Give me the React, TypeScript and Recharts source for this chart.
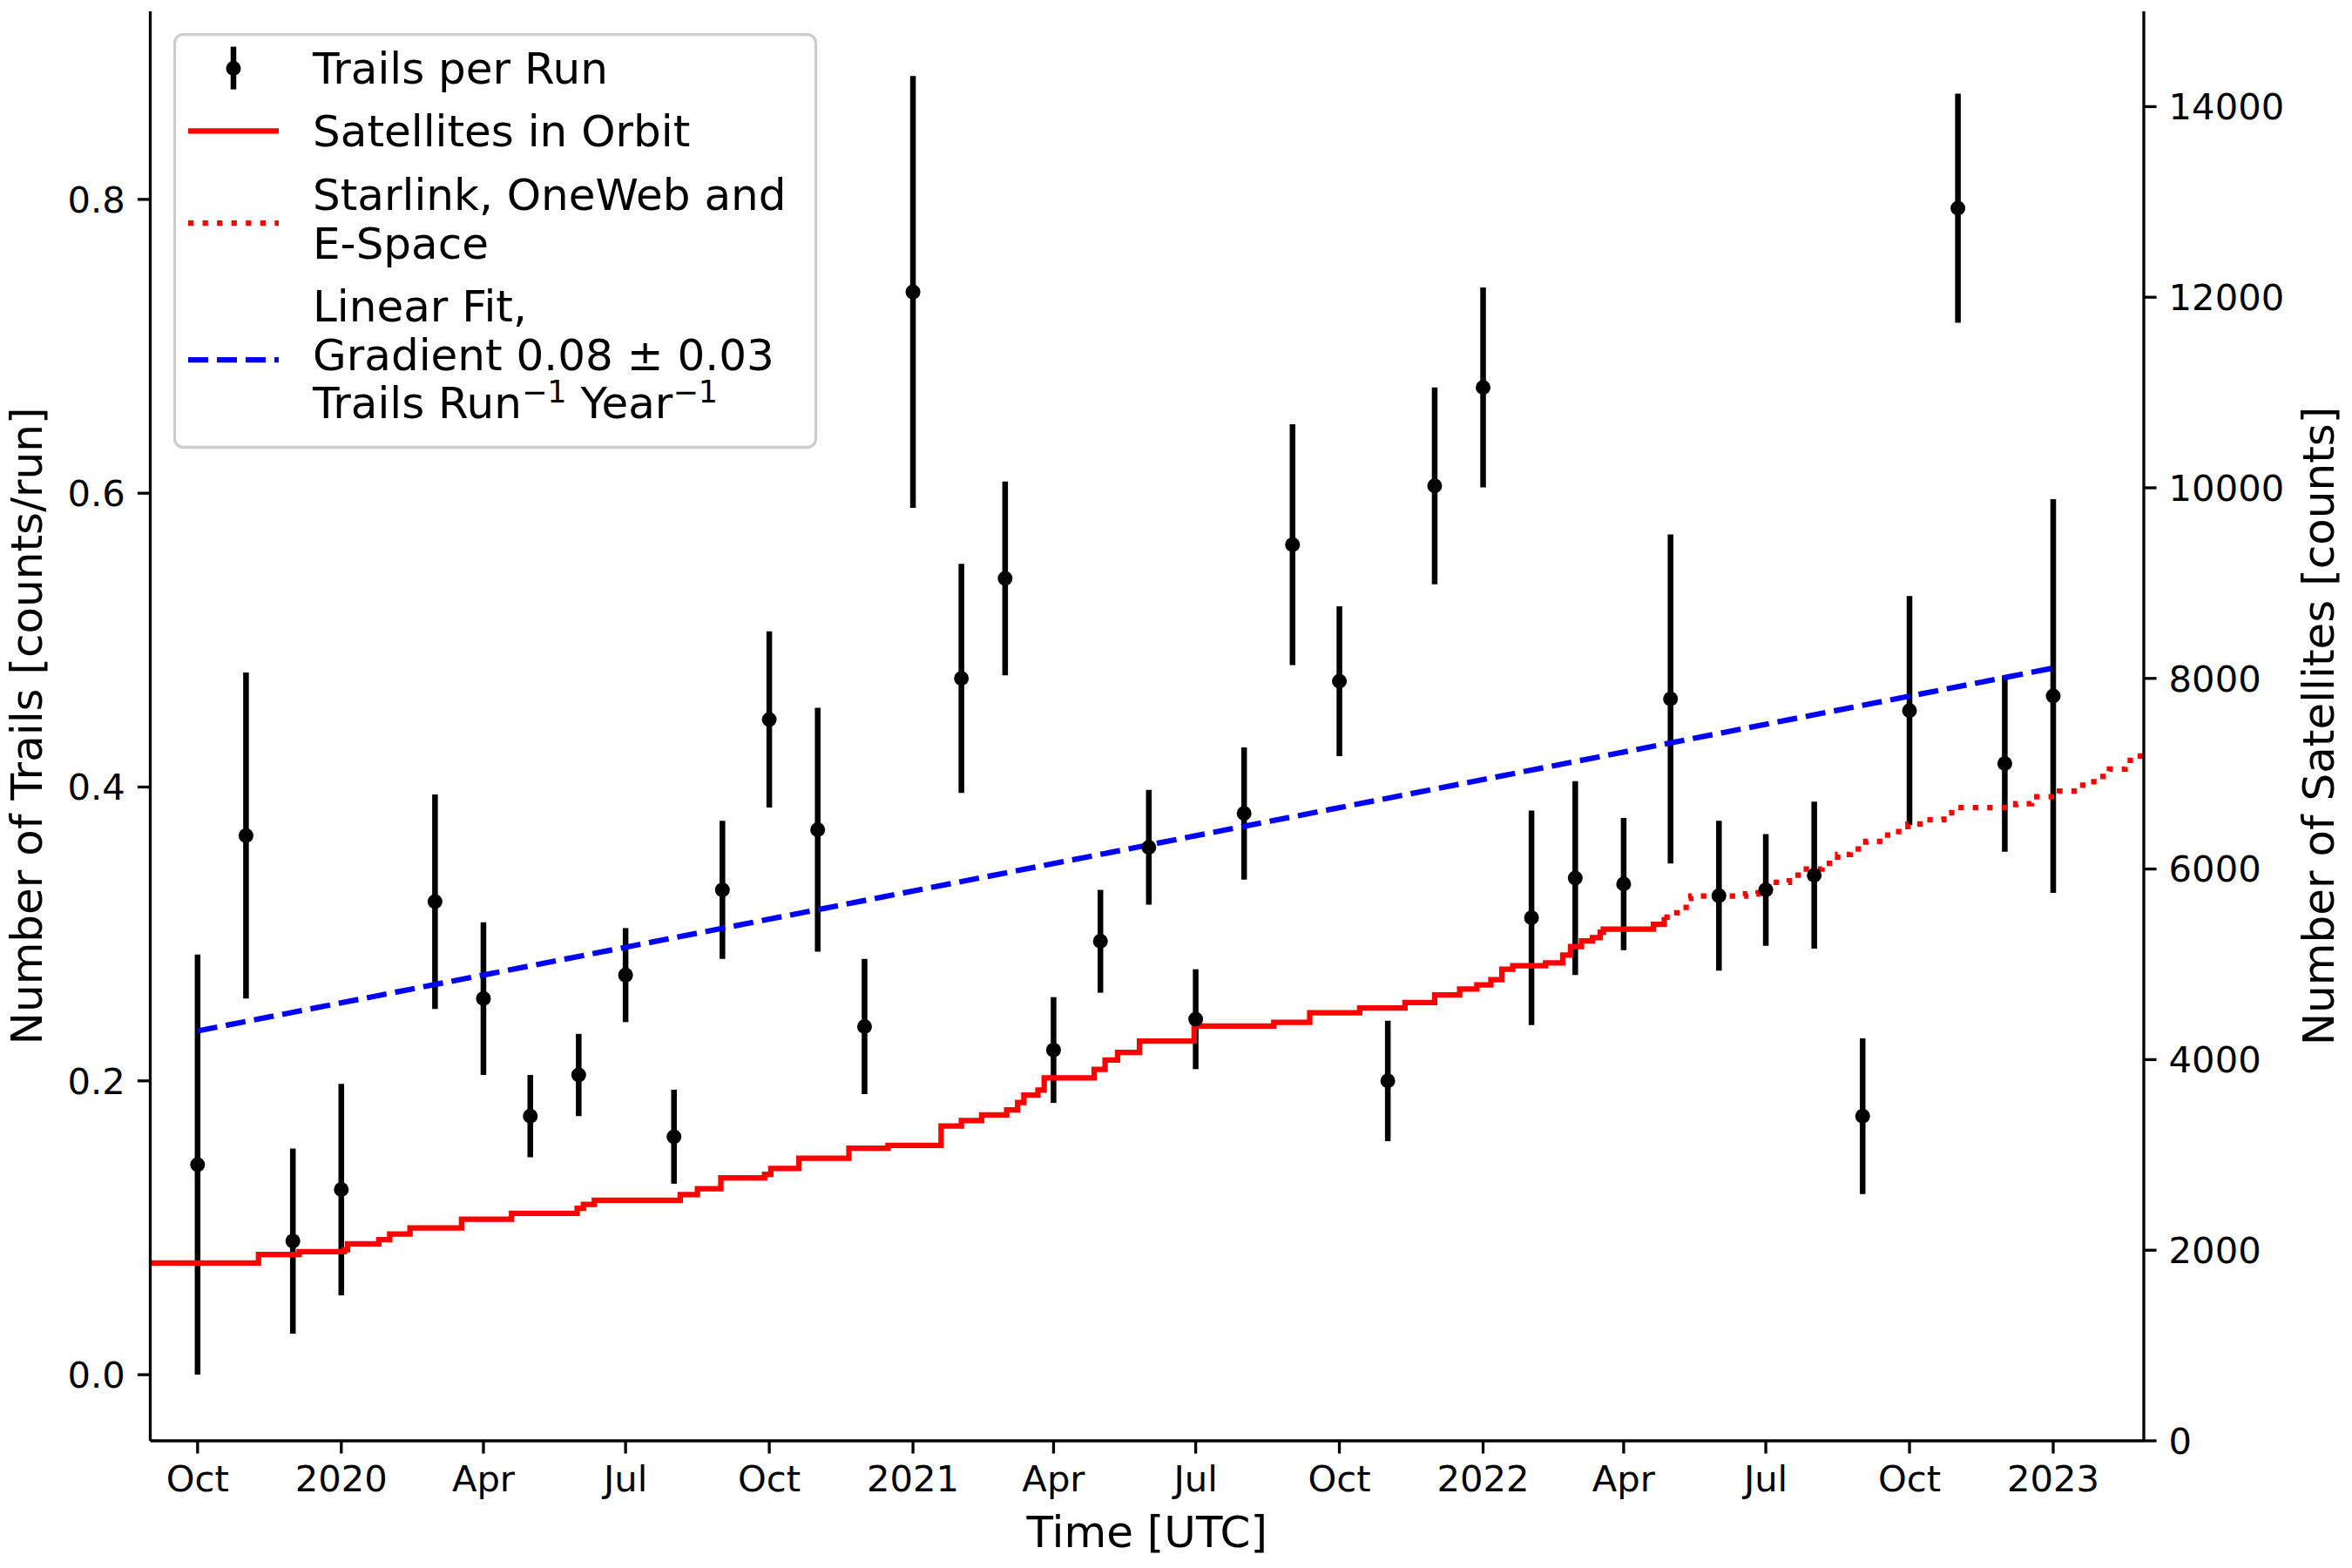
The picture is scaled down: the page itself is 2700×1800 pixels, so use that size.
import React from 'react';
import { ComposedChart, Scatter, Line, XAxis, YAxis, ErrorBar, Legend, Label } from 'recharts';

const FONT = '"DejaVu Sans", "Liberation Sans", sans-serif';

// monthly runs
const runMonths = [
  '2019-10-01', '2019-11-01', '2019-12-01', '2020-01-01', '2020-03-01', '2020-04-01',
  '2020-05-01', '2020-06-01', '2020-07-01', '2020-08-01', '2020-09-01', '2020-10-01',
  '2020-11-01', '2020-12-01', '2021-01-01', '2021-02-01', '2021-03-01', '2021-04-01',
  '2021-05-01', '2021-06-01', '2021-07-01', '2021-08-01', '2021-09-01', '2021-10-01',
  '2021-11-01', '2021-12-01', '2022-01-01', '2022-02-01', '2022-03-01', '2022-04-01',
  '2022-05-01', '2022-06-01', '2022-07-01', '2022-08-01', '2022-09-01', '2022-10-01',
  '2022-11-01', '2022-12-01', '2023-01-01',
];
const trailsPerRun = [
  0.143, 0.367, 0.091, 0.126, 0.322, 0.256,
  0.176, 0.204, 0.272, 0.162, 0.330, 0.446,
  0.371, 0.237, 0.737, 0.474, 0.542, 0.221,
  0.295, 0.359, 0.242, 0.382, 0.565, 0.472,
  0.200, 0.605, 0.672, 0.311, 0.338, 0.334,
  0.460, 0.326, 0.330, 0.340, 0.176, 0.452,
  0.794, 0.416, 0.462,
];
const trailsErr = [
  0.143, 0.111, 0.063, 0.072, 0.073, 0.052,
  0.028, 0.028, 0.032, 0.032, 0.047, 0.060,
  0.083, 0.046, 0.147, 0.078, 0.066, 0.036,
  0.035, 0.039, 0.034, 0.045, 0.082, 0.051,
  0.041, 0.067, 0.068, 0.073, 0.066, 0.045,
  0.112, 0.051, 0.038, 0.050, 0.053, 0.078,
  0.078, 0.060, 0.134,
];

// satellites in orbit (step series)
const satDates = [
  '2019-08-31', '2019-11-09', '2019-12-05', '2020-01-03', '2020-01-05', '2020-01-25',
  '2020-02-01', '2020-02-14', '2020-03-18', '2020-04-19', '2020-05-31', '2020-06-04',
  '2020-06-11', '2020-08-05', '2020-08-16', '2020-08-31', '2020-09-28', '2020-10-02',
  '2020-10-20', '2020-11-21', '2020-12-16', '2021-01-19', '2021-02-01', '2021-02-14',
  '2021-03-02', '2021-03-09', '2021-03-13', '2021-03-22', '2021-03-26', '2021-04-27',
  '2021-05-04', '2021-05-12', '2021-05-26', '2021-06-30', '2021-08-20', '2021-09-12',
  '2021-10-14', '2021-11-12', '2021-12-01', '2021-12-17', '2021-12-28', '2022-01-06',
  '2022-01-13', '2022-01-20', '2022-02-10', '2022-02-21', '2022-02-26', '2022-03-05',
  '2022-03-12', '2022-03-17', '2022-03-19', '2022-04-20', '2022-04-27',
];
const satCounts = [
  1865, 1955, 1985, 2005, 2066, 2110,
  2170, 2233, 2325, 2386, 2440, 2480,
  2523, 2584, 2645, 2760, 2797, 2858,
  2964, 3071, 3100, 3304, 3360, 3420,
  3472, 3549, 3628, 3680, 3808, 3897,
  3995, 4075, 4194, 4352, 4390, 4491,
  4541, 4600, 4680, 4740, 4785, 4838,
  4948, 4985, 5015, 5098, 5186, 5245,
  5280, 5336, 5370, 5420, 5495,
];

// Starlink, OneWeb and E-Space (dotted continuation)
const constDates = [
  '2022-04-27', '2022-05-05', '2022-05-11', '2022-05-14', '2022-06-18', '2022-06-26',
  '2022-07-06', '2022-07-16', '2022-07-25', '2022-08-06', '2022-08-16', '2022-08-24',
  '2022-09-03', '2022-09-17', '2022-09-30', '2022-10-10', '2022-10-23', '2022-10-28',
  '2022-12-08', '2022-12-18', '2023-01-05', '2023-01-17', '2023-01-27', '2023-02-06',
  '2023-02-16', '2023-02-24', '2023-02-28',
];
const constCounts = [
  5495, 5540, 5692, 5716, 5740, 5798,
  5860, 5935, 6000, 6060, 6152, 6210,
  6289, 6392, 6472, 6517, 6590, 6645,
  6685, 6758, 6819, 6880, 6972, 7048,
  7139, 7185, 7200,
];

// linear fit end points
const fitDates = ['2019-10-01', '2023-01-01'];
const fitValues = [0.234, 0.481];

const xTickDates = [
  '2019-10-01', '2020-01-01', '2020-04-01', '2020-07-01', '2020-10-01', '2021-01-01',
  '2021-04-01', '2021-07-01', '2021-10-01', '2022-01-01', '2022-04-01', '2022-07-01',
  '2022-10-01', '2023-01-01',
];
const xTickLabels = [
  'Oct', '2020', 'Apr', 'Jul', 'Oct', '2021', 'Apr', 'Jul', 'Oct', '2022', 'Apr', 'Jul', 'Oct', '2023',
];
const leftTicks = [0, 0.2, 0.4, 0.6, 0.8];
const rightTicks = [0, 2000, 4000, 6000, 8000, 10000, 12000, 14000];

const ORIGIN = Date.parse('2019-10-01');
const toDay = (s: string) => (Date.parse(s) - ORIGIN) / 86400000;

const runData = runMonths.map((d, i) => ({ x: toDay(d), y: trailsPerRun[i], err: trailsErr[i] }));
const satData = satDates.map((d, i) => ({ x: toDay(d), count: satCounts[i] }));
const constData = constDates.map((d, i) => ({ x: toDay(d), count: constCounts[i] }));
const fitData = fitDates.map((d, i) => ({ x: toDay(d), y: fitValues[i] }));
const xTicks = xTickDates.map(toDay);

const X_DOMAIN = [-30.3, 1246];

const tickStyle = { fill: '#000', fontSize: 41.7, fontFamily: FONT };
const lineStyle = { stroke: '#000', strokeWidth: 3.3 };

const Dot = (p: any) => <circle cx={p.cx} cy={p.cy} r={8.5} fill="#000" />;

const LeftTitle = (p: any) => {
  const vb = p.viewBox || { x: 0, y: 13, width: 172, height: 1641 };
  const cx = vb.x + 48;
  const cy = vb.y + vb.height / 2;
  return (
    <text x={cx} y={cy} transform={`rotate(-90 ${cx} ${cy})`} textAnchor="middle"
      fontSize={50} fontFamily={FONT} fill="#000">
      Number of Trails [counts/run]
    </text>
  );
};

const RightTitle = (p: any) => {
  const vb = p.viewBox || { x: 2461, y: 13, width: 239, height: 1641 };
  const cx = vb.x + 218;
  const cy = vb.y + vb.height / 2;
  return (
    <text x={cx} y={cy} transform={`rotate(-90 ${cx} ${cy})`} textAnchor="middle"
      fontSize={50} fontFamily={FONT} fill="#000">
      Number of Satellites [counts]
    </text>
  );
};

const BottomTitle = (p: any) => {
  const vb = p.viewBox || { x: 172.5, y: 1654, width: 2288.5, height: 146 };
  return (
    <text x={vb.x + vb.width / 2} y={vb.y + 122} textAnchor="middle"
      fontSize={50} fontFamily={FONT} fill="#000">
      Time [UTC]
    </text>
  );
};

const LegendBox = () => {
  const t = { fontSize: 50, fontFamily: FONT, fill: '#000' };
  const sup = { fontSize: 35 };
  return (
    <svg width={740} height={478} style={{ display: 'block' }}>
      <rect x={1.5} y={1.5} width={736} height={474} rx={10} ry={10}
        fill="#fff" fillOpacity={0.8} stroke="#cccccc" strokeWidth={3.3} />
      <line x1={69} x2={69} y1={15.6} y2={64.6} stroke="#000" strokeWidth={6.5} />
      <circle cx={69} cy={40.5} r={8.5} fill="#000" />
      <text x={160} y={57.7} {...t}>Trails per Run</text>

      <line x1={17} x2={121} y1={112.4} y2={112.4} stroke="#ff0000" strokeWidth={6.25} />
      <text x={160} y={130} {...t}>Satellites in Orbit</text>

      <line x1={17} x2={121} y1={218} y2={218} stroke="#ff0000" strokeWidth={6.25}
        strokeDasharray="6.25 10.3" />
      <text x={160} y={203} {...t}>Starlink, OneWeb and</text>
      <text x={160} y={258.6} {...t}>E-Space</text>

      <line x1={17} x2={121} y1={375} y2={375} stroke="#0000ff" strokeWidth={6.25}
        strokeDasharray="23 10" />
      <text x={160} y={331} {...t}>Linear Fit,</text>
      <text x={160} y={387} {...t}>Gradient 0.08 ± 0.03</text>
      <text x={160} y={442} {...t}>
        Trails Run<tspan dy={-18} {...sup}>−1</tspan>
        <tspan dy={18}> Year</tspan>
        <tspan dy={-18} {...sup}>−1</tspan>
      </text>
    </svg>
  );
};

export default function App() {
  return (
    <div style={{ position: 'absolute', left: 0, top: 0, width: 2700, height: 1800, background: '#fff' }}>
      <ComposedChart width={2700} height={1800} margin={{ top: 13, right: 0, bottom: 0, left: 0 }}>
        <XAxis
          xAxisId="bottom"
          dataKey="x"
          type="number"
          domain={X_DOMAIN}
          allowDataOverflow
          ticks={xTicks}
          interval={0}
          tickFormatter={(v: number) => xTickLabels[xTicks.indexOf(v)] ?? ''}
          height={146}
          tickSize={14.6}
          tickMargin={14}
          tick={tickStyle}
          axisLine={lineStyle}
          tickLine={lineStyle}
        >
          <Label content={BottomTitle} />
        </XAxis>
        <XAxis
          xAxisId="top"
          orientation="top"
          dataKey="x"
          type="number"
          domain={X_DOMAIN}
          allowDataOverflow
          height={0}
          tick={false}
          tickLine={false}
          axisLine={lineStyle}
        />
        <YAxis
          yAxisId="left"
          dataKey="y"
          type="number"
          domain={[-0.045, 0.928]}
          allowDataOverflow
          ticks={leftTicks}
          interval={0}
          tickFormatter={(v: number) => v.toFixed(1)}
          width={172.5}
          tickSize={14.6}
          tickMargin={14}
          tick={tickStyle}
          axisLine={lineStyle}
          tickLine={lineStyle}
        >
          <Label content={LeftTitle} />
        </YAxis>
        <YAxis
          yAxisId="right"
          orientation="right"
          dataKey="count"
          type="number"
          domain={[0, 15000]}
          allowDataOverflow
          ticks={rightTicks}
          interval={0}
          width={239}
          tickSize={14.6}
          tickMargin={14}
          tick={tickStyle}
          axisLine={lineStyle}
          tickLine={lineStyle}
        >
          <Label content={RightTitle} />
        </YAxis>

        <Scatter
          name="Trails per Run"
          data={runData}
          dataKey="y"
          xAxisId="bottom"
          yAxisId="left"
          shape={Dot}
          isAnimationActive={false}
        >
          <ErrorBar dataKey="err" direction="y" width={0} stroke="#000" strokeWidth={6.5} isAnimationActive={false} />
        </Scatter>
        <Line
          name="Linear Fit"
          data={fitData}
          dataKey="y"
          xAxisId="bottom"
          yAxisId="left"
          type="linear"
          stroke="#0000ff"
          strokeWidth={6.25}
          strokeDasharray="23 10"
          dot={false}
          activeDot={false}
          isAnimationActive={false}
        />
        <Line
          name="Satellites in Orbit"
          data={satData}
          dataKey="count"
          xAxisId="bottom"
          yAxisId="right"
          type="stepAfter"
          stroke="#ff0000"
          strokeWidth={6.25}
          dot={false}
          activeDot={false}
          isAnimationActive={false}
        />
        <Line
          name="Starlink, OneWeb and E-Space"
          data={constData}
          dataKey="count"
          xAxisId="bottom"
          yAxisId="right"
          type="stepAfter"
          stroke="#ff0000"
          strokeWidth={6.25}
          strokeDasharray="6.25 10.3"
          dot={false}
          activeDot={false}
          isAnimationActive={false}
        />
        <Legend
          layout="horizontal"
          verticalAlign="middle"
          align="center"
          content={LegendBox}
          wrapperStyle={{ left: 199, top: 38, width: 740, height: 478 }}
        />
      </ComposedChart>
    </div>
  );
}
